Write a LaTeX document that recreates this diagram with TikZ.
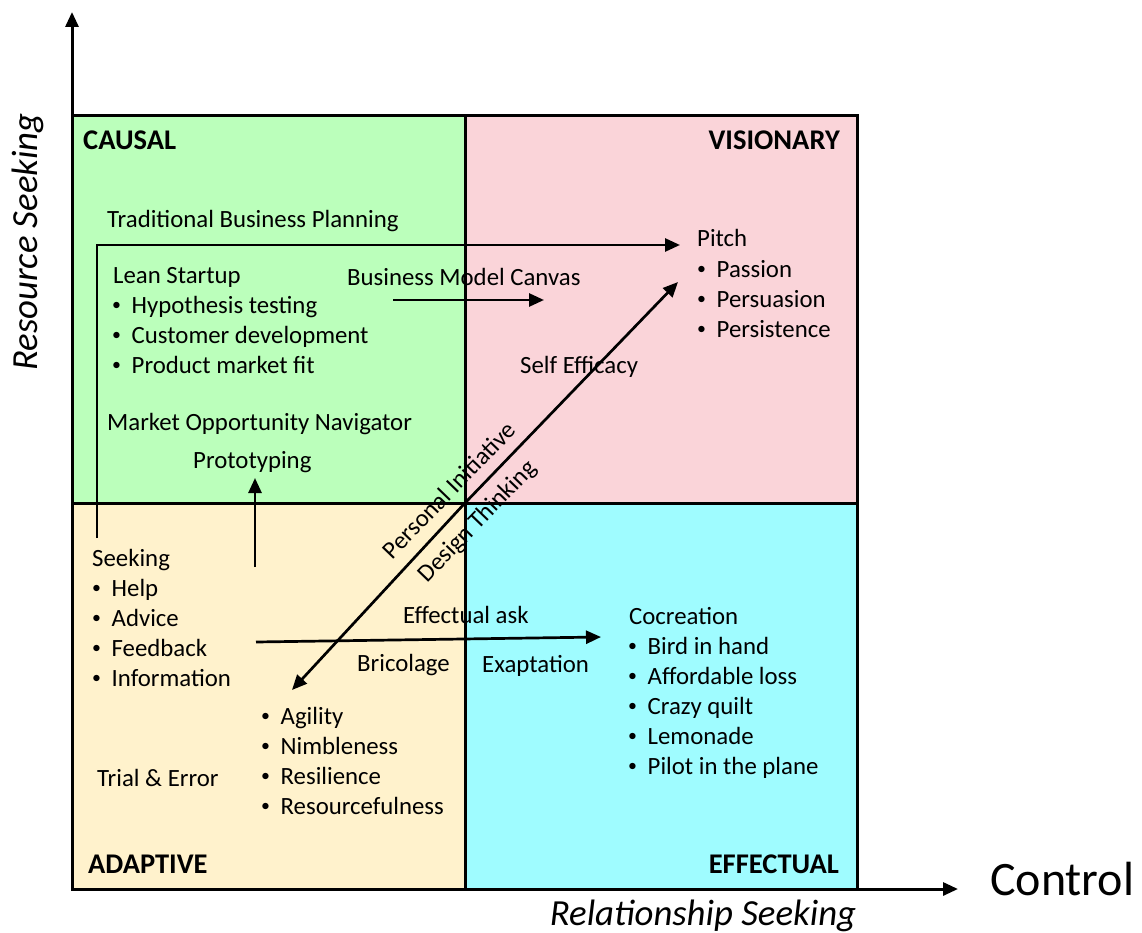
\documentclass[tikz,border=0pt]{standalone}
\usepackage{fontspec}
\usepackage{graphicx}
\setmainfont{Carlito}
\usetikzlibrary{arrows.meta}
\definecolor{qgreen}{RGB}{187,255,187}
\definecolor{qpink}{RGB}{250,212,217}
\definecolor{qcyan}{RGB}{159,252,255}
\definecolor{qcream}{RGB}{255,242,204}
\newcommand{\bodyfont}{\fontsize{24.8}{30}\selectfont}
\newcommand{\bitem}[1]{\makebox[20.5pt][l]{\hspace{1pt}\raisebox{0.12em}{\scalebox{0.72}{\textbullet}}}#1}
\newcommand{\blst}[1]{\begin{tabular}[t]{@{}l@{}}#1\end{tabular}}
\begin{document}
\begin{tikzpicture}[x=1pt,y=-1pt,
  txt/.style={anchor=base west, inner sep=0pt, font=\bodyfont},
  lbl/.style={inner sep=0pt, font=\fontsize{28.5}{34}\selectfont\bfseries},
  diag/.style={inner sep=0pt, font=\bodyfont, rotate=46},
  arr/.style={line width=2.7pt, -{Triangle[length=15pt,width=13pt]}},
  axis/.style={line width=3pt, -{Triangle[length=15pt,width=13pt]}},
  frame/.style={line width=3pt}]
\useasboundingbox (0,0) rectangle (1142,933);
% quadrants
\fill[qgreen] (72,116) rectangle (465,503);
\fill[qpink] (465,116) rectangle (857,503);
\fill[qcream] (72,503) rectangle (465,889);
\fill[qcyan] (465,503) rectangle (857,889);
\draw[frame] (72,116) rectangle (857,889);
\draw[frame] (465,116) -- (465,889);
\draw[frame] (72,503) -- (857,503);
% axes
\coordinate (origin) at (72,889);
\coordinate (ytop) at (72,12);
\coordinate (xend) at (958,889);
\draw[axis] (origin) -- (ytop);
\draw[axis] (origin) -- (xend);
\node[inner sep=0pt, font=\fontsize{36.8}{44}\selectfont\itshape, rotate=90] (yl) at (28,242) {Resource Seeking};
\node[anchor=base, inner sep=0pt, font=\fontsize{36.8}{44}\selectfont\itshape] (xl) at (703,925) {Relationship Seeking};
\node[anchor=base west, inner sep=0pt, font=\fontsize{48}{56}\selectfont] (ctl) at (990,895) {Control};
% quadrant labels
\node[lbl, anchor=base west] (causal) at (83,150) {CAUSAL};
\node[lbl, anchor=base east] (visionary) at (840,150) {VISIONARY};
\node[lbl, anchor=base west] (adaptive) at (88,873) {ADAPTIVE};
\node[lbl, anchor=base east] (effectual) at (839,873) {EFFECTUAL};
% causal texts
\node[txt] (tbp) at (107,228) {Traditional Business Planning};
\node[txt] (lean) at (113,283) {Lean Startup};
\node[txt] (leanl) at (111,313) {\blst{\bitem{Hypothesis testing}\\\bitem{Customer development}\\\bitem{Product market fit}}};
\node[txt] (mon) at (107,430) {Market Opportunity Navigator};
\node[txt] (proto) at (193,468) {Prototyping};
\node[txt] (bmc) at (347,285) {Business Model Canvas};
% visionary texts
\node[txt] (self) at (520,373) {Self Efficacy};
\node[txt] (pitch) at (697,247) {Pitch};
\node[txt] (pitchl) at (696,277) {\blst{\bitem{Passion}\\\bitem{Persuasion}\\\bitem{Persistence}}};
% adaptive texts
\node[txt] (seek) at (92,566) {Seeking};
\node[txt] (seekl) at (91,596) {\blst{\bitem{Help}\\\bitem{Advice}\\\bitem{Feedback}\\\bitem{Information}}};
\node[txt] (agil) at (260,724) {\blst{\bitem{Agility}\\\bitem{Nimbleness}\\\bitem{Resilience}\\\bitem{Resourcefulness}}};
\node[txt] (trial) at (97,786) {Trial \& Error};
\node[txt] (eask) at (403,623) {Effectual ask};
\node[txt] (bric) at (357,671) {Bricolage};
% effectual texts
\node[txt] (exap) at (482,672) {Exaptation};
\node[txt] (cocr) at (629,624) {Cocreation};
\node[txt] (cocrl) at (627,654) {\blst{\bitem{Bird in hand}\\\bitem{Affordable loss}\\\bitem{Crazy quilt}\\\bitem{Lemonade}\\\bitem{Pilot in the plane}}};
% diagonal labels
\node[diag] (pinit) at (449,490) {Personal Initiative};
\node[diag] (dthink) at (478,522) {Design Thinking};
% connectors
\coordinate (tb0) at (97,538);
\coordinate (tb1) at (97,245);
\coordinate (pitchin) at (680,245);
\draw[arr] (tb0) -- (tb1) -- (pitchin);
\coordinate (bmc0) at (393,300);
\coordinate (bmc1) at (544,300);
\draw[arr] (bmc0) -- (bmc1);
\coordinate (ctr) at (465,503);
\coordinate (diagup) at (678,282);
\coordinate (diagdn) at (292,690);
\draw[arr] (ctr) -- (diagup);
\draw[arr] (ctr) -- (diagdn);
\coordinate (pr0) at (255,567);
\coordinate (pr1) at (255,478);
\draw[arr] (pr0) -- (pr1);
\coordinate (fb0) at (256,642);
\coordinate (fb1) at (601,637);
\draw[arr] (fb0) -- (fb1);
\end{tikzpicture}
\end{document}
